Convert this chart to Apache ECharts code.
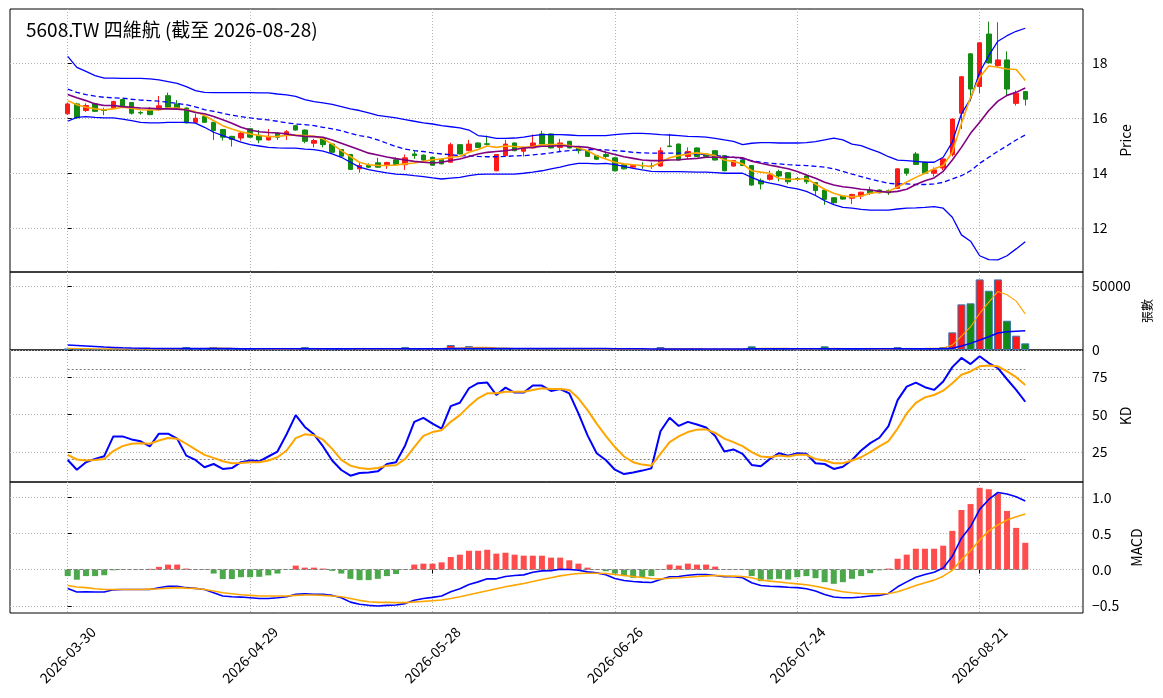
<!DOCTYPE html>
<html>
<head>
<meta charset="utf-8">
<title>5608.TW 四維航</title>
<script src="https://cdn.jsdelivr.net/npm/echarts@6.0.0/dist/echarts.min.js"></script>
<style>
    html, body { margin: 0; padding: 0; background: #fff; }
    #chart { width: 1163px; height: 698px; }
</style>
</head>
<body>
<div id="chart"></div>
<script>
// trading days shown on the x axis
const dates = [
    '2026-03-30', '2026-03-31', '2026-04-01', '2026-04-02', '2026-04-07', '2026-04-08', '2026-04-09', '2026-04-10', '2026-04-13', '2026-04-14',
    '2026-04-15', '2026-04-16', '2026-04-17', '2026-04-20', '2026-04-21', '2026-04-22', '2026-04-23', '2026-04-24', '2026-04-27', '2026-04-28',
    '2026-04-29', '2026-04-30', '2026-05-04', '2026-05-05', '2026-05-06', '2026-05-07', '2026-05-08', '2026-05-11', '2026-05-12', '2026-05-13',
    '2026-05-14', '2026-05-15', '2026-05-18', '2026-05-19', '2026-05-20', '2026-05-21', '2026-05-22', '2026-05-25', '2026-05-26', '2026-05-27',
    '2026-05-28', '2026-05-29', '2026-06-01', '2026-06-02', '2026-06-03', '2026-06-04', '2026-06-05', '2026-06-08', '2026-06-09', '2026-06-10',
    '2026-06-11', '2026-06-12', '2026-06-15', '2026-06-16', '2026-06-17', '2026-06-18', '2026-06-22', '2026-06-23', '2026-06-24', '2026-06-25',
    '2026-06-26', '2026-06-29', '2026-06-30', '2026-07-01', '2026-07-02', '2026-07-03', '2026-07-06', '2026-07-07', '2026-07-08', '2026-07-09',
    '2026-07-10', '2026-07-13', '2026-07-14', '2026-07-15', '2026-07-16', '2026-07-17', '2026-07-20', '2026-07-21', '2026-07-22', '2026-07-23',
    '2026-07-24', '2026-07-27', '2026-07-28', '2026-07-29', '2026-07-30', '2026-07-31', '2026-08-03', '2026-08-04', '2026-08-05', '2026-08-06',
    '2026-08-07', '2026-08-10', '2026-08-11', '2026-08-12', '2026-08-13', '2026-08-14', '2026-08-17', '2026-08-18', '2026-08-19', '2026-08-20',
    '2026-08-21', '2026-08-24', '2026-08-25', '2026-08-26', '2026-08-27', '2026-08-28'
];

const opens = [
    16.15, 16.51, 16.27, 16.51, 16.30, 16.36, 16.67, 16.56, 16.20, 16.29,
    16.30, 16.81, 16.51, 16.36, 15.84, 16.05, 15.84, 15.58, 15.33, 15.27,
    15.61, 15.37, 15.20, 15.44, 15.39, 15.72, 15.56, 15.08, 15.26, 15.05,
    14.85, 14.67, 14.15, 14.27, 14.37, 14.27, 14.48, 14.30, 14.69, 14.65,
    14.57, 14.50, 14.39, 15.03, 14.81, 15.09, 15.06, 14.08, 14.63, 15.09,
    14.79, 14.91, 15.42, 15.42, 14.93, 15.15, 14.93, 14.81, 14.63, 14.67,
    14.55, 14.30, 14.21, 14.27, 14.25, 14.25, 14.98, 15.05, 14.60, 14.91,
    14.69, 14.81, 14.63, 14.25, 14.47, 14.27, 13.72, 13.77, 14.05, 14.01,
    13.80, 13.89, 13.65, 13.38, 13.10, 13.16, 13.08, 13.16, 13.38, 13.38,
    13.36, 13.44, 14.15, 14.69, 14.39, 13.99, 14.18, 14.67, 16.17, 18.33,
    17.14, 19.05, 17.90, 18.11, 16.53, 16.96
];
const closes = [
    16.51, 16.00, 16.45, 16.24, 16.27, 16.60, 16.39, 16.17, 16.18, 16.12,
    16.44, 16.39, 16.33, 15.82, 15.99, 15.84, 15.54, 15.30, 15.22, 15.45,
    15.30, 15.20, 15.32, 15.30, 15.50, 15.56, 15.15, 15.18, 15.03, 14.75,
    14.61, 14.13, 14.27, 14.21, 14.21, 14.38, 14.30, 14.55, 14.63, 14.47,
    14.28, 14.33, 15.03, 14.69, 15.05, 14.93, 15.04, 14.67, 15.05, 14.81,
    14.93, 15.09, 15.05, 14.91, 15.09, 14.91, 14.81, 14.60, 14.50, 14.60,
    14.08, 14.15, 14.27, 14.26, 14.24, 14.81, 14.96, 14.47, 14.78, 14.60,
    14.60, 14.47, 14.08, 14.45, 14.27, 13.56, 13.60, 13.93, 13.89, 13.68,
    13.76, 13.68, 13.36, 13.04, 12.92, 13.05, 13.22, 13.30, 13.26, 13.28,
    13.28, 14.15, 13.99, 14.31, 13.99, 14.11, 14.51, 15.96, 17.50, 17.05,
    18.73, 18.00, 18.11, 17.05, 16.90, 16.68
];
const lows = [
    16.12, 15.98, 16.22, 16.22, 16.10, 16.33, 16.36, 16.12, 16.12, 16.10,
    16.27, 16.36, 16.30, 15.80, 15.82, 15.82, 15.20, 15.18, 14.96, 15.17,
    15.28, 15.08, 15.18, 15.20, 15.20, 15.54, 15.08, 14.93, 14.93, 14.73,
    14.59, 14.11, 14.01, 14.19, 14.19, 14.15, 14.28, 14.11, 14.51, 14.45,
    14.26, 14.31, 14.37, 14.67, 14.79, 14.91, 15.00, 14.06, 14.61, 14.79,
    14.60, 14.89, 15.03, 14.89, 14.76, 14.89, 14.70, 14.58, 14.48, 14.51,
    14.06, 14.13, 14.19, 14.15, 14.15, 14.23, 14.94, 14.45, 14.51, 14.58,
    14.58, 14.45, 14.06, 14.23, 14.25, 13.54, 13.40, 13.72, 13.70, 13.59,
    13.70, 13.60, 13.20, 12.84, 12.85, 13.03, 12.87, 13.05, 13.20, 13.26,
    13.20, 13.42, 13.90, 14.29, 13.97, 13.87, 14.10, 14.60, 15.60, 16.60,
    16.90, 17.98, 17.85, 16.82, 16.45, 16.45
];
const highs = [
    16.55, 16.55, 16.53, 16.55, 16.37, 16.62, 16.70, 16.58, 16.25, 16.39,
    16.80, 16.92, 16.65, 16.38, 16.15, 16.07, 15.86, 15.60, 15.35, 15.52,
    15.63, 15.56, 15.60, 15.49, 15.56, 15.75, 15.58, 15.24, 15.28, 15.07,
    14.87, 14.69, 14.38, 14.35, 14.55, 14.41, 14.57, 14.67, 14.81, 14.67,
    14.59, 14.52, 15.10, 15.05, 15.20, 15.11, 15.36, 14.69, 15.20, 15.11,
    14.95, 15.40, 15.53, 15.44, 15.24, 15.17, 14.95, 14.83, 14.65, 14.79,
    14.57, 14.32, 14.29, 14.39, 14.38, 14.93, 15.42, 15.07, 14.93, 14.93,
    14.71, 14.83, 14.65, 14.47, 14.49, 14.29, 13.80, 14.08, 14.12, 14.03,
    13.86, 13.95, 13.67, 13.40, 13.12, 13.18, 13.24, 13.32, 13.50, 13.40,
    13.40, 14.17, 14.17, 14.76, 14.41, 14.20, 14.53, 15.98, 17.52, 18.35,
    18.75, 19.50, 19.48, 18.42, 17.00, 16.98
];

const ma5 = [
    16.63, 16.48, 16.39, 16.33, 16.30, 16.33, 16.39, 16.35, 16.30, 16.29,
    16.30, 16.36, 16.36, 16.30, 16.23, 16.09, 15.90, 15.72, 15.60, 15.50,
    15.42, 15.36, 15.32, 15.33, 15.36, 15.38, 15.36, 15.33, 15.24, 15.05,
    14.81, 14.60, 14.39, 14.30, 14.27, 14.27, 14.29, 14.33, 14.36, 14.42,
    14.48, 14.51, 14.57, 14.60, 14.75, 14.85, 14.98, 14.93, 14.98, 14.96,
    14.93, 14.96, 15.02, 15.03, 15.03, 15.00, 14.91, 14.81, 14.63, 14.51,
    14.39, 14.33, 14.30, 14.27, 14.23, 14.39, 14.55, 14.63, 14.69, 14.73,
    14.69, 14.63, 14.47, 14.42, 14.33, 14.08, 14.03, 13.99, 13.80, 13.77,
    13.77, 13.80, 13.60, 13.41, 13.26, 13.16, 13.13, 13.16, 13.26, 13.30,
    13.33, 13.49, 13.67, 13.84, 13.99, 14.15, 14.27, 14.75, 15.81, 16.75,
    17.48, 17.89, 17.84, 17.78, 17.76, 17.36
];
const ma10 = [
    16.85, 16.73, 16.63, 16.51, 16.45, 16.45, 16.41, 16.39, 16.36, 16.35,
    16.33, 16.33, 16.32, 16.29, 16.20, 16.15, 16.05, 15.93, 15.81, 15.66,
    15.56, 15.50, 15.47, 15.45, 15.42, 15.36, 15.33, 15.32, 15.30, 15.20,
    15.08, 14.96, 14.84, 14.72, 14.65, 14.58, 14.52, 14.47, 14.42, 14.39,
    14.36, 14.39, 14.45, 14.51, 14.60, 14.69, 14.75, 14.78, 14.81, 14.85,
    14.91, 14.93, 14.97, 14.97, 15.00, 14.97, 14.96, 14.93, 14.85, 14.75,
    14.67, 14.59, 14.53, 14.47, 14.45, 14.45, 14.47, 14.48, 14.51, 14.53,
    14.57, 14.57, 14.57, 14.57, 14.55, 14.43, 14.35, 14.28, 14.22, 14.15,
    14.05, 13.93, 13.81, 13.66, 13.56, 13.50, 13.46, 13.41, 13.38, 13.33,
    13.30, 13.33, 13.41, 13.58, 13.72, 13.82, 14.06, 14.47, 14.93, 15.44,
    15.84, 16.27, 16.61, 16.82, 16.93, 17.09
];
const bbUpper = [
    18.24, 17.84, 17.69, 17.54, 17.45, 17.45, 17.44, 17.44, 17.44, 17.42,
    17.38, 17.32, 17.26, 17.14, 16.99, 16.93, 16.92, 16.92, 16.92, 16.92,
    16.92, 16.91, 16.91, 16.87, 16.84, 16.78, 16.67, 16.59, 16.55, 16.49,
    16.41, 16.33, 16.27, 16.18, 16.09, 16.05, 16.00, 15.94, 15.88, 15.82,
    15.78, 15.72, 15.68, 15.64, 15.56, 15.36, 15.32, 15.26, 15.26, 15.27,
    15.30, 15.36, 15.39, 15.39, 15.39, 15.38, 15.36, 15.36, 15.36, 15.36,
    15.39, 15.42, 15.44, 15.44, 15.42, 15.39, 15.38, 15.36, 15.33, 15.32,
    15.30, 15.26, 15.20, 15.15, 15.03, 15.08, 15.10, 15.10, 15.09, 15.09,
    15.09, 15.10, 15.14, 15.20, 15.27, 15.20, 15.05, 14.99, 14.87, 14.75,
    14.59, 14.47, 14.45, 14.42, 14.39, 14.39, 14.57, 15.12, 16.15, 16.69,
    17.66, 18.27, 18.79, 18.99, 19.15, 19.26
];
const bbMid = [
    17.05, 16.93, 16.85, 16.79, 16.75, 16.73, 16.72, 16.68, 16.65, 16.63,
    16.61, 16.57, 16.53, 16.48, 16.40, 16.30, 16.24, 16.17, 16.10, 16.05,
    16.00, 15.96, 15.93, 15.88, 15.82, 15.78, 15.76, 15.72, 15.66, 15.60,
    15.54, 15.44, 15.36, 15.30, 15.20, 15.08, 14.96, 14.87, 14.81, 14.78,
    14.73, 14.69, 14.66, 14.63, 14.62, 14.60, 14.59, 14.59, 14.60, 14.62,
    14.63, 14.66, 14.69, 14.73, 14.78, 14.81, 14.84, 14.85, 14.85, 14.84,
    14.81, 14.79, 14.75, 14.73, 14.72, 14.72, 14.72, 14.72, 14.72, 14.69,
    14.67, 14.63, 14.60, 14.57, 14.51, 14.45, 14.39, 14.35, 14.33, 14.30,
    14.28, 14.27, 14.24, 14.21, 14.15, 14.06, 13.96, 13.87, 13.78, 13.70,
    13.62, 13.60, 13.60, 13.58, 13.58, 13.60, 13.66, 13.78, 13.90, 14.08,
    14.35, 14.57, 14.79, 14.99, 15.20, 15.38
];
const bbLower = [
    15.88, 16.02, 16.05, 16.02, 16.00, 16.00, 15.96, 15.90, 15.84, 15.82,
    15.82, 15.84, 15.84, 15.84, 15.81, 15.66, 15.48, 15.36, 15.24, 15.12,
    15.03, 14.98, 14.93, 14.91, 14.90, 14.90, 14.87, 14.85, 14.79, 14.69,
    14.57, 14.39, 14.21, 14.12, 14.06, 14.00, 13.96, 13.94, 13.90, 13.87,
    13.82, 13.78, 13.81, 13.84, 13.90, 13.95, 13.96, 13.96, 13.96, 13.96,
    13.99, 14.03, 14.08, 14.15, 14.21, 14.29, 14.35, 14.35, 14.33, 14.35,
    14.30, 14.24, 14.17, 14.11, 14.06, 14.05, 14.05, 14.05, 14.04, 14.03,
    14.03, 14.01, 13.99, 13.99, 13.99, 13.84, 13.70, 13.63, 13.57, 13.48,
    13.42, 13.33, 13.18, 12.99, 12.85, 12.75, 12.72, 12.68, 12.65, 12.65,
    12.65, 12.69, 12.72, 12.73, 12.75, 12.78, 12.72, 12.39, 11.75, 11.52,
    10.99, 10.85, 10.84, 10.99, 11.24, 11.50
];

// volume in lots (張)
const volumes = [
    1200, 900, 800, 700, 900, 1000, 800, 700, 600, 700,
    900, 1100, 800, 2300, 900, 800, 2300, 1100, 900, 800,
    700, 800, 700, 600, 700, 900, 2300, 900, 800, 700,
    900, 1000, 1100, 800, 700, 900, 800, 2300, 900, 800,
    700, 900, 3900, 1200, 3100, 1300, 1000, 1200, 1100, 900,
    800, 900, 1000, 900, 800, 700, 600, 700, 600, 500,
    800, 700, 600, 500, 600, 2300, 1000, 900, 800, 700,
    600, 700, 900, 800, 700, 2900, 1100, 900, 800, 700,
    600, 700, 900, 2900, 1000, 800, 700, 600, 700, 600,
    500, 2300, 1200, 1300, 1000, 900, 2300, 13800, 35700, 36500,
    55200, 46350, 55200, 22900, 11200, 5200
];
const volMa5 = [
    1300, 1200, 1100, 1000, 900, 860, 840, 840, 800, 740,
    760, 860, 820, 1160, 1200, 1180, 1440, 1480, 1280, 1180,
    1140, 900, 800, 720, 700, 740, 1100, 1080, 1060, 1120,
    1120, 960, 900, 900, 900, 900, 860, 1100, 1120, 1100,
    1100, 1100, 1440, 1500, 1960, 2040, 2100, 1760, 1580, 1100,
    1060, 1000, 980, 940, 880, 840, 800, 760, 720, 620,
    640, 660, 640, 640, 640, 940, 1000, 1060, 1120, 1140,
    860, 760, 740, 740, 740, 1140, 1280, 1280, 1280, 1280,
    840, 760, 740, 1160, 1240, 1220, 1200, 1200, 960, 720,
    620, 940, 1080, 1220, 1260, 1340, 1540, 3880, 10800, 18000,
    28700, 37500, 45800, 43200, 38200, 28200
];
const volMa20 = [
    3900, 3500, 3100, 2700, 2300, 2000, 1700, 1500, 1400, 1300,
    1250, 1200, 1150, 1150, 1100, 1100, 1100, 1100, 1100, 1050,
    1050, 1050, 1050, 1050, 1050, 1050, 1050, 1050, 1000, 1000,
    1000, 1000, 1000, 1000, 1000, 1000, 950, 1000, 1000, 1000,
    1000, 1000, 1150, 1150, 1250, 1250, 1250, 1250, 1250, 1250,
    1250, 1250, 1250, 1250, 1250, 1250, 1200, 1200, 1150, 1100,
    1050, 1000, 950, 900, 800, 850, 850, 850, 850, 850,
    850, 850, 850, 850, 850, 950, 950, 950, 950, 950,
    950, 950, 950, 1000, 1000, 950, 900, 900, 900, 900,
    900, 950, 950, 1000, 1000, 1000, 1100, 1300, 3100, 5200,
    7800, 10400, 13300, 14200, 14600, 15000
];

const kLine = [
    19.7, 13.2, 18.2, 20.4, 22.2, 35.4, 35.4, 33.4, 32.1, 28.7,
    37.2, 37.2, 33.9, 22.6, 19.7, 14.8, 17.0, 13.7, 14.3, 18.2,
    19.3, 18.8, 22.0, 25.3, 36.8, 49.6, 41.7, 36.8, 28.7, 19.3,
    13.0, 9.2, 11.0, 11.4, 12.1, 17.0, 18.2, 29.4, 45.1, 47.8,
    43.9, 40.6, 55.6, 57.8, 67.5, 70.9, 71.3, 63.0, 67.9, 64.6,
    64.6, 69.3, 69.3, 65.7, 67.0, 64.1, 50.7, 36.1, 24.2, 19.7,
    13.2, 10.3, 11.4, 12.6, 14.1, 38.8, 47.8, 42.4, 45.1, 43.3,
    41.3, 35.7, 25.3, 26.7, 23.8, 16.4, 15.5, 20.4, 24.2, 22.6,
    24.2, 23.8, 17.5, 17.0, 13.7, 15.2, 19.7, 26.0, 30.9, 34.5,
    42.2, 59.6, 68.6, 71.3, 68.2, 66.4, 72.0, 81.6, 87.7, 83.6,
    88.8, 84.3, 80.9, 73.5, 66.4, 58.5
];
const dLine = [
    23.1, 20.0, 19.3, 19.7, 20.4, 25.6, 28.9, 30.5, 30.9, 30.5,
    32.7, 34.3, 33.9, 30.5, 26.7, 23.1, 21.1, 18.8, 17.5, 17.7,
    18.2, 18.2, 19.3, 21.5, 26.0, 34.3, 36.8, 36.1, 33.2, 27.1,
    19.7, 15.9, 14.3, 13.7, 14.3, 15.9, 16.2, 20.4, 28.3, 35.7,
    38.3, 39.5, 45.1, 49.6, 55.6, 60.8, 64.1, 64.1, 65.2, 65.2,
    65.2, 66.4, 67.5, 67.0, 67.0, 66.4, 60.8, 52.9, 43.9, 35.7,
    28.3, 22.0, 18.2, 16.6, 15.9, 23.8, 31.6, 35.4, 38.3, 39.9,
    40.1, 37.7, 33.9, 31.6, 28.9, 24.9, 22.0, 21.5, 22.6, 22.0,
    23.1, 23.1, 20.4, 19.3, 17.5, 17.5, 19.3, 21.5, 24.9, 28.7,
    32.3, 40.6, 50.7, 57.8, 61.4, 63.0, 65.9, 70.9, 76.5, 78.7,
    82.1, 82.7, 82.1, 78.7, 74.9, 69.7
];

const macdDif = [
    -0.26, -0.31, -0.306, -0.31, -0.31, -0.28, -0.275, -0.275, -0.275, -0.275,
    -0.25, -0.23, -0.23, -0.25, -0.26, -0.275, -0.32, -0.366, -0.375, -0.38,
    -0.39, -0.40, -0.40, -0.39, -0.375, -0.343, -0.334, -0.343, -0.343, -0.357,
    -0.39, -0.45, -0.48, -0.494, -0.503, -0.494, -0.49, -0.47, -0.425, -0.40,
    -0.384, -0.366, -0.306, -0.265, -0.206, -0.17, -0.128, -0.128, -0.096, -0.082,
    -0.073, -0.037, -0.018, -0.014, 0.005, 0.0, -0.01, -0.032, -0.046, -0.07,
    -0.123, -0.15, -0.165, -0.174, -0.178, -0.137, -0.10, -0.096, -0.078, -0.069,
    -0.069, -0.082, -0.10, -0.10, -0.114, -0.183, -0.22, -0.23, -0.236, -0.245,
    -0.25, -0.265, -0.297, -0.343, -0.38, -0.39, -0.39, -0.38, -0.366, -0.357,
    -0.33, -0.238, -0.17, -0.105, -0.069, -0.037, 0.023, 0.183, 0.434, 0.594,
    0.832, 0.969, 1.065, 1.043, 1.006, 0.947
];
const macdDea = [
    -0.22, -0.24, -0.25, -0.265, -0.275, -0.275, -0.275, -0.275, -0.275, -0.27,
    -0.265, -0.256, -0.25, -0.256, -0.26, -0.275, -0.297, -0.32, -0.334, -0.348,
    -0.357, -0.366, -0.366, -0.366, -0.366, -0.357, -0.352, -0.352, -0.357, -0.366,
    -0.375, -0.40, -0.425, -0.444, -0.453, -0.452, -0.457, -0.457, -0.448, -0.44,
    -0.43, -0.42, -0.40, -0.375, -0.348, -0.32, -0.293, -0.265, -0.238, -0.215,
    -0.192, -0.165, -0.137, -0.114, -0.087, -0.069, -0.055, -0.05, -0.05, -0.055,
    -0.069, -0.082, -0.096, -0.11, -0.123, -0.128, -0.119, -0.114, -0.105, -0.096,
    -0.087, -0.082, -0.087, -0.09, -0.096, -0.114, -0.145, -0.16, -0.172, -0.185,
    -0.197, -0.21, -0.23, -0.256, -0.283, -0.306, -0.32, -0.33, -0.334, -0.334,
    -0.33, -0.306, -0.265, -0.22, -0.183, -0.146, -0.091, -0.01, 0.137, 0.26,
    0.41, 0.535, 0.617, 0.686, 0.73, 0.768
];
const macdHist = [
    -0.09, -0.14, -0.09, -0.09, -0.078, -0.01, -0.005, 0.0, 0.003, 0.01,
    0.037, 0.069, 0.069, 0.014, 0.002, -0.005, -0.055, -0.13, -0.13, -0.105,
    -0.105, -0.10, -0.08, -0.055, -0.003, 0.055, 0.027, 0.027, 0.014, -0.018,
    -0.055, -0.128, -0.146, -0.146, -0.128, -0.09, -0.062, -0.005, 0.069, 0.082,
    0.082, 0.10, 0.174, 0.206, 0.26, 0.26, 0.274, 0.22, 0.233, 0.206,
    0.192, 0.192, 0.192, 0.165, 0.165, 0.128, 0.082, 0.027, 0.003, -0.023,
    -0.055, -0.09, -0.114, -0.105, -0.09, -0.003, 0.069, 0.055, 0.082, 0.069,
    0.069, 0.041, 0.002, -0.002, -0.005, -0.09, -0.16, -0.137, -0.128, -0.137,
    -0.105, -0.09, -0.119, -0.174, -0.197, -0.174, -0.128, -0.09, -0.05, -0.01,
    0.014, 0.15, 0.206, 0.288, 0.288, 0.288, 0.33, 0.535, 0.823, 0.905,
    1.13, 1.11, 1.05, 0.81, 0.576, 0.37
];

const labelIdx = [0, 20, 40, 60, 80, 100];

const FONT = '"Noto Sans CJK TC", "Noto Sans", sans-serif';
const UP = '#ff1a1a', DOWN = '#138a13';
const X_MIN = -6.33, X_MAX = 111.33;
const gridLine = { lineStyle: { color: '#b4b4b4', width: 1, type: [1, 2] } };

function pairs(arr) {
    return arr.map(function (v, i) { return [i, v]; });
}

function lineSeries(name, arr, color, width, xi, dash) {
    return {
        name: name, type: 'line', xAxisIndex: xi, yAxisIndex: xi,
        data: pairs(arr), showSymbol: false, symbol: 'none', z: 5,
        lineStyle: { color: color, width: width, type: dash || 'solid' },
        silent: true
    };
}

function xAxisFor(i, bottom) {
    return {
        type: 'value', gridIndex: i, min: X_MIN, max: X_MAX,
        minInterval: 20, maxInterval: 20,
        axisLine: { show: false },
        axisTick: { show: bottom, customValues: labelIdx, length: 4, lineStyle: { color: '#000' } },
        axisLabel: bottom ? {
            show: true, rotate: 45, align: 'center', verticalAlign: 'middle', margin: 42,
            fontSize: 14, color: '#000', fontFamily: FONT,
            showMinLabel: false, showMaxLabel: false,
            formatter: function (v) { return dates[Math.round(v)] || ''; }
        } : { show: false },
        splitLine: Object.assign({ show: true }, gridLine)
    };
}

function yAxisFor(i, opt) {
    return {
        type: 'value', gridIndex: i, position: 'right',
        min: opt.min, max: opt.max, minInterval: opt.step, maxInterval: opt.step,
        name: opt.name, nameLocation: 'middle', nameRotate: 90, nameGap: opt.gap,
        nameTextStyle: { fontSize: opt.nameSize || 14, color: '#000', fontFamily: FONT },
        axisLine: { show: false },
        axisTick: { show: true, customValues: opt.ticks, length: 4, lineStyle: { color: '#000' } },
        axisLabel: {
            show: true, margin: 9, fontSize: 14, color: '#000', fontFamily: FONT,
            showMinLabel: !!opt.showMin, showMaxLabel: false,
            formatter: opt.fmt || function (v) { return String(v); }
        },
        splitLine: Object.assign({ show: true }, gridLine)
    };
}

let chartDom = document.getElementById('chart');
let myChart = echarts.init(chartDom, null, { renderer: 'canvas' });

let candleData = dates.map(function (d, i) {
    return [i, opens[i], closes[i], lows[i], highs[i]];
});
let volumeData = volumes.map(function (v, i) {
    return { value: [i, v], itemStyle: { color: closes[i] >= opens[i] ? UP : DOWN } };
});
let histData = macdHist.map(function (v, i) {
    return { value: [i, v], itemStyle: { color: v >= 0 ? '#ff4d4d' : '#4ba84b' } };
});

let gridBase = { left: 10, right: 80, show: true, borderColor: '#000', borderWidth: 1, backgroundColor: 'transparent', outerBoundsMode: 'none' };

let option = {
    animation: false,
    backgroundColor: '#fff',
    textStyle: { fontFamily: FONT },
    title: {
        text: '5608.TW 四維航 (截至 2026-08-28)',
        left: 21, top: 15,
        textStyle: { fontSize: 19, fontWeight: 'normal', color: '#000', fontFamily: FONT }
    },
    grid: [
        Object.assign({ top: 9, height: 263 }, gridBase),
        Object.assign({ top: 272, height: 78 }, gridBase),
        Object.assign({ top: 350, height: 132 }, gridBase),
        Object.assign({ top: 482, height: 131 }, gridBase)
    ],
    xAxis: [xAxisFor(0, false), xAxisFor(1, false), xAxisFor(2, false), xAxisFor(3, true)],
    yAxis: [
        yAxisFor(0, { min: 10.4, max: 19.96, step: 2, ticks: [12, 14, 16, 18], name: 'Price', gap: 32 }),
        yAxisFor(1, { min: 0, max: 61000, step: 50000, ticks: [0, 50000], name: '張數', gap: 52, nameSize: 12, showMin: true }),
        yAxisFor(2, { min: 5, max: 93, step: 25, ticks: [25, 50, 75], name: 'KD', gap: 33 }),
        yAxisFor(3, {
            min: -0.6, max: 1.21, step: 0.5, ticks: [-0.5, 0, 0.5, 1], name: 'MACD', gap: 42,
            fmt: function (v) { return v < 0 ? '\u2212' + Math.abs(v).toFixed(1) : v.toFixed(1); }
        })
    ],
    series: [
        {
            name: 'K', type: 'candlestick', xAxisIndex: 0, yAxisIndex: 0,
            data: candleData, encode: { x: 0, y: [1, 2, 3, 4] },
            barWidth: 5, z: 2,
            itemStyle: { color: UP, color0: DOWN, borderColor: UP, borderColor0: DOWN, borderWidth: 1 }
        },
        lineSeries('BB上軌', bbUpper, '#0000ff', 1.3, 0),
        lineSeries('BB中軌', bbMid, '#0000ff', 1.3, 0, [5, 3]),
        lineSeries('BB下軌', bbLower, '#0000ff', 1.3, 0),
        lineSeries('MA5', ma5, '#ffa500', 1.6, 0),
        lineSeries('MA10', ma10, '#800080', 1.6, 0),
        {
            name: '張數', type: 'bar', xAxisIndex: 1, yAxisIndex: 1,
            data: volumeData, barWidth: 8,
            itemStyle: { borderColor: '#3a76b0', borderWidth: 1 }
        },
        lineSeries('量MA5', volMa5, '#ffa500', 1.1, 1),
        lineSeries('量MA20', volMa20, '#0000ff', 1.5, 1),
        Object.assign(lineSeries('K值', kLine, '#0000ff', 2, 2), {
            markLine: {
                silent: true, symbol: ['none', 'none'], label: { show: false },
                lineStyle: { color: '#808080', width: 1, type: [2, 2] },
                data: [
                    [{ coord: [0, 80] }, { coord: [105, 80] }],
                    [{ coord: [0, 20] }, { coord: [105, 20] }]
                ]
            }
        }),
        lineSeries('D值', dLine, '#ffa500', 2, 2),
        {
            name: 'OSC', type: 'bar', xAxisIndex: 3, yAxisIndex: 3,
            data: histData, barWidth: 6, z: 2,
            markLine: {
                silent: true, symbol: ['none', 'none'], label: { show: false },
                lineStyle: { color: '#808080', width: 1, type: [4, 2] },
                data: [[{ coord: [0, 0] }, { coord: [105, 0] }]]
            }
        },
        lineSeries('DIF', macdDif, '#0000ff', 1.6, 3),
        lineSeries('DEA', macdDea, '#ffa500', 1.6, 3)
    ]
};

option && myChart.setOption(option);
window.addEventListener('resize', function () {
    myChart.resize();
});
</script>
</body>
</html>
